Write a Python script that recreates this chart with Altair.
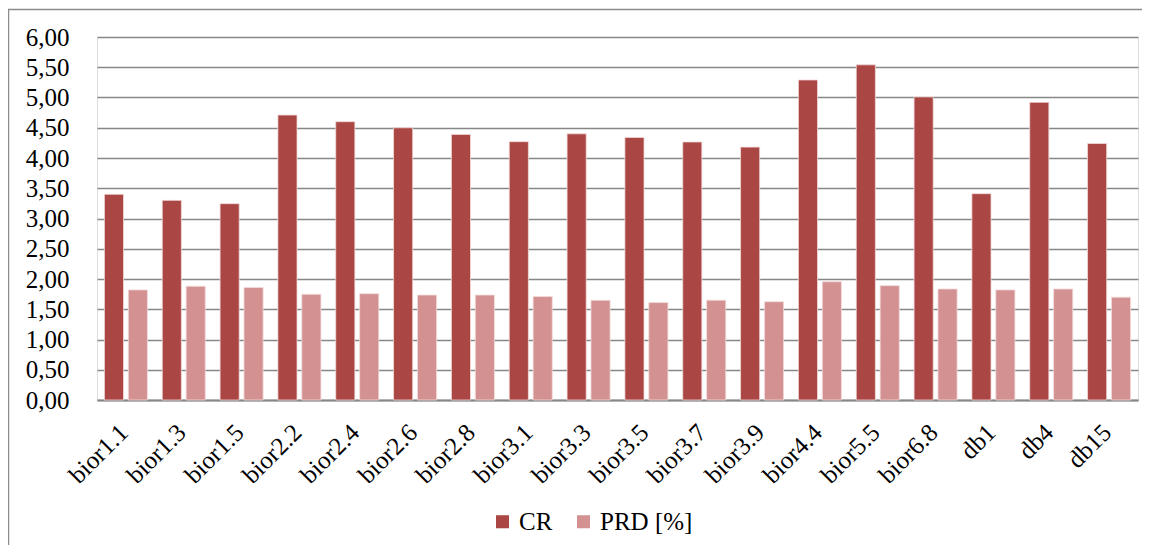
import altair as alt
import pandas as pd

categories = ["bior1.1", "bior1.3", "bior1.5", "bior2.2", "bior2.4", "bior2.6", "bior2.8",
              "bior3.1", "bior3.3", "bior3.5", "bior3.7", "bior3.9", "bior4.4", "bior5.5",
              "bior6.8", "db1", "db4", "db15"]
cr = [3.40, 3.30, 3.245, 4.71, 4.60, 4.50, 4.39, 4.27, 4.40, 4.34, 4.265, 4.18,
      5.29, 5.54, 5.01, 3.41, 4.92, 4.24]
prd = [1.82, 1.88, 1.86, 1.747, 1.757, 1.735, 1.735, 1.71, 1.648, 1.61, 1.65, 1.625,
       1.955, 1.89, 1.835, 1.82, 1.835, 1.70]
series = ["CR", "PRD [%]"]
colors = ["#AA4643", "#D39291"]
y_ticks = [0, 0.5, 1, 1.5, 2, 2.5, 3, 3.5, 4, 4.5, 5, 5.5, 6]

rows = []
for c, a, b in zip(categories, cr, prd):
    rows.append({"cat": c, "series": series[0], "value": a})
    rows.append({"cat": c, "series": series[1], "value": b})
df = pd.DataFrame(rows)

FONT = "Liberation Serif, Times New Roman, serif"

bars = alt.Chart(df).mark_bar(stroke="#F3DADA", strokeWidth=0.8).encode(
    x=alt.X("cat:N", sort=categories, title=None,
            scale=alt.Scale(paddingInner=0.256, paddingOuter=0.128),
            axis=alt.Axis(labelAngle=-45, labelAlign="right", labelBaseline="middle",
                          labelPadding=28, labelOffset=-2, ticks=False,
                          domainColor="#878787", domainWidth=2,
                          labelFont=FONT, labelFontSize=25, labelColor="#000000")),
    xOffset=alt.XOffset("series:N", sort=series,
                        scale=alt.Scale(paddingInner=0.2, paddingOuter=0)),
    y=alt.Y("value:Q", title=None,
            scale=alt.Scale(domain=[0, 6], nice=False),
            axis=alt.Axis(values=y_ticks, domain=False, ticks=False, labelPadding=28,
                          labelExpr="replace(format(datum.value, '.2f'), '.', ',')",
                          gridColor="#878787", gridWidth=1.6,
                          labelFont=FONT, labelFontSize=25, labelColor="#000000")),
    color=alt.Color("series:N", sort=series,
                    scale=alt.Scale(domain=series, range=colors),
                    legend=alt.Legend(title=None, orient="none", direction="horizontal",
                                      legendX=393, legendY=472, padding=0,
                                      symbolType="square", symbolSize=170,
                                      symbolStrokeWidth=0, labelOffset=4,
                                      columnPadding=18, labelFont=FONT,
                                      labelFontSize=25, labelColor="#000000")),
)

border = alt.Chart(pd.DataFrame({"a": [0]})).mark_rect(
    fillOpacity=0, stroke="#8C8C8C", strokeWidth=1.5, clip=False
).encode(
    x=alt.value(-88.5), x2=alt.value(1300), y=alt.value(-27.5), y2=alt.value(700)
)

chart = alt.layer(bars, border).properties(
    width=1041, height=363,
    autosize=alt.AutoSizeParams(type="none"),
    padding={"left": 89, "top": 29, "right": 4, "bottom": 145},
).configure_view(stroke=None).configure(background="white")

chart.save("out.html", embed_options={"renderer": "svg", "actions": False})
